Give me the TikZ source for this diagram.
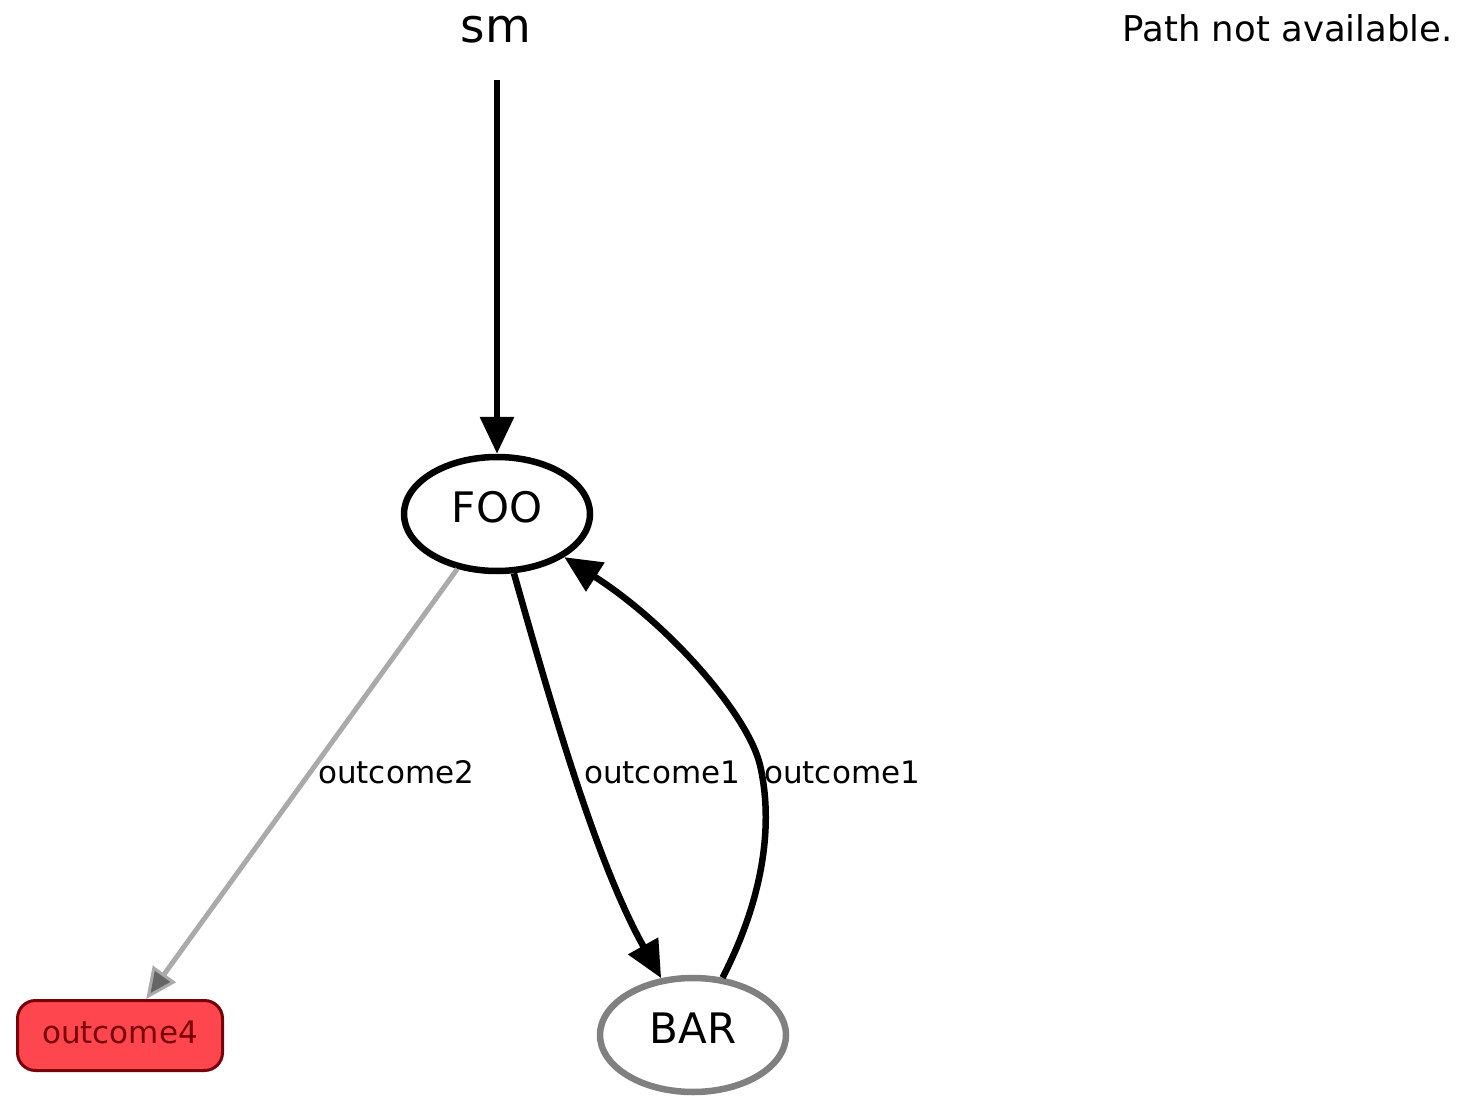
\documentclass[tikz,border=0pt]{standalone}
\usepackage{fontspec}
\setmainfont{DejaVu Sans}
\usetikzlibrary{shapes.geometric,arrows.meta}
\definecolor{outfill}{HTML}{FE464F}
\definecolor{outdark}{HTML}{780006}
\definecolor{edgegray}{HTML}{AAAAAA}
\definecolor{tipgray}{HTML}{666666}
\definecolor{bargray}{HTML}{808080}
\begin{document}
\begin{tikzpicture}[x=1pt,y=-1pt,
  state/.style={ellipse, draw, line width=6.5pt, minimum width=186pt, minimum height=114pt,
    inner sep=0pt, font=\fontsize{42}{50}\selectfont, text depth=14pt},
  outcomebox/.style={rectangle, rounded corners=18pt, draw=outdark, fill=outfill, line width=3pt,
    minimum width=205pt, minimum height=70pt, inner sep=0pt, text=outdark,
    font=\fontsize{31}{37}\selectfont, text depth=7pt},
  edgelabel/.style={anchor=base west, inner sep=0pt, font=\fontsize{31}{37}\selectfont},
  blackedge/.style={draw=black, line width=6.5pt, -{Triangle[length=37pt,width=33pt]}},
  grayedge/.style={draw=edgegray, line width=5pt, -{Triangle[length=31pt,width=28pt,fill=tipgray,line width=3pt]}}
]
\useasboundingbox (0,0) rectangle (1457,1115);
% title texts
\node[anchor=base, inner sep=0pt, font=\fontsize{47}{56}\selectfont] (sm) at (496,43) {sm};
\node[anchor=base east, inner sep=0pt, font=\fontsize{35.5}{43}\selectfont] (nopath) at (1453,42) {Path not available.};
% states
\node[state] (FOO) at (497,514) {FOO};
\node[state, draw=bargray] (BAR) at (693,1035) {BAR};
\node[outcomebox] (out4) at (120,1035.5) {outcome4};
\coordinate (smstart) at (497,80);
\coordinate (loopmid) at (760,765);
% edges
\draw[blackedge] (smstart) -- (FOO);
\draw[grayedge] (FOO) -- (out4);
\draw[blackedge] (FOO) .. controls (550,700) and (595,860) .. (BAR);
\draw[blackedge] (BAR) .. controls (760,905) and (775,830) .. (loopmid)
  .. controls (748,715) and (670,625) .. (FOO);
% labels
\node[edgelabel] (l2) at (318,783) {outcome2};
\node[edgelabel] (l1a) at (584,783) {outcome1};
\node[edgelabel] (l1b) at (764,783) {outcome1};
\end{tikzpicture}
\end{document}
